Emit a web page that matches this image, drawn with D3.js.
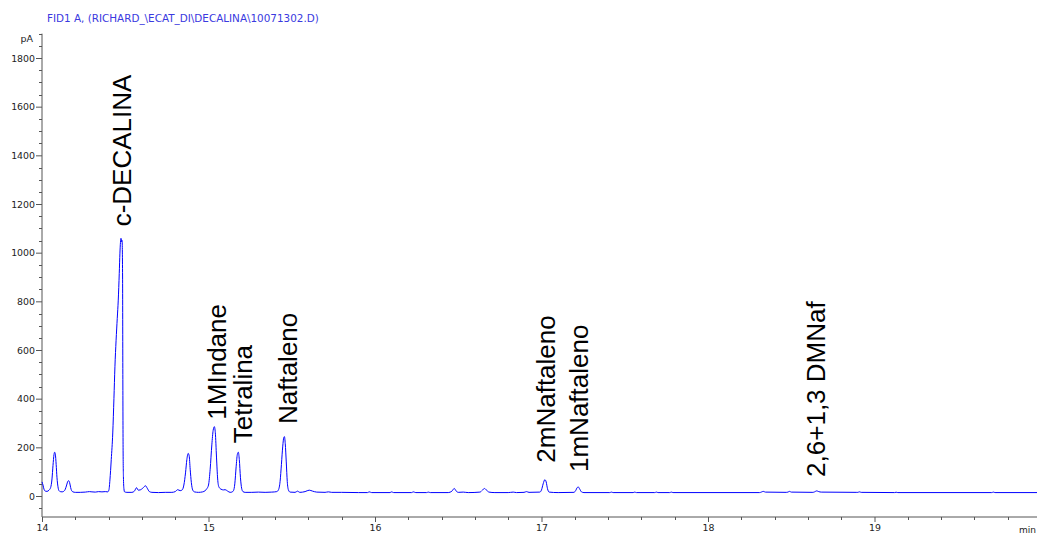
<!DOCTYPE html>
<html>
<head>
<meta charset="utf-8">
<script src="https://cdn.jsdelivr.net/npm/d3@7"></script>
<style>
  html, body { margin: 0; padding: 0; background: #ffffff; }
  svg { display: block; }
</style>
</head>
<body>
<svg id="chart" width="1037" height="534"></svg>
<script>
// ---- FID signal trace: retention time (min) and detector response (pA) ----
const timeMin = [
  14.000, 14.006, 14.012, 14.020, 14.030, 14.042, 14.052, 14.060, 14.066, 14.072,
  14.076, 14.080, 14.085, 14.090, 14.096, 14.102, 14.110, 14.120, 14.130, 14.140,
  14.148, 14.155, 14.160, 14.166, 14.172, 14.178, 14.186, 14.200, 14.230, 14.260,
  14.285, 14.300, 14.320, 14.340, 14.360, 14.380, 14.395, 14.402, 14.408, 14.416,
  14.425, 14.432, 14.438, 14.445, 14.452, 14.458, 14.464, 14.468, 14.4745, 14.478,
  14.481, 14.484, 14.4855, 14.487, 14.489, 14.492, 14.496, 14.510, 14.540, 14.555,
  14.568, 14.578, 14.590, 14.605, 14.622, 14.632, 14.645, 14.660, 14.700, 14.740,
  14.780, 14.800, 14.815, 14.830, 14.842, 14.852, 14.862, 14.870, 14.878, 14.884,
  14.890, 14.897, 14.905, 14.915, 14.940, 14.965, 14.980, 14.990, 15.000, 15.010,
  15.020, 15.028, 15.035, 15.041, 15.048, 15.055, 15.062, 15.075, 15.090, 15.100,
  15.115, 15.130, 15.140, 15.150, 15.158, 15.166, 15.173, 15.179, 15.185, 15.192,
  15.199, 15.207, 15.220, 15.260, 15.300, 15.340, 15.380, 15.410, 15.420, 15.430,
  15.438, 15.446, 15.452, 15.456, 15.461, 15.467, 15.473, 15.480, 15.490, 15.520,
  15.535, 15.548, 15.580, 15.605, 15.625, 15.650, 15.700, 15.720, 15.740, 15.800,
  15.900, 15.955, 15.965, 15.980, 16.090, 16.100, 16.112, 16.220, 16.230, 16.245,
  16.310, 16.320, 16.332, 16.440, 16.462, 16.476, 16.488, 16.500, 16.530, 16.560,
  16.630, 16.645, 16.657, 16.670, 16.685, 16.720, 16.800, 16.830, 16.850, 16.895,
  16.910, 16.925, 16.990, 17.000, 17.010, 17.020, 17.028, 17.036, 17.046, 17.100,
  17.195, 17.205, 17.215, 17.221, 17.230, 17.240, 17.255, 17.410, 17.420, 17.430,
  17.550, 17.560, 17.570, 17.680, 17.690, 17.700, 17.770, 17.780, 17.790, 18.310,
  18.320, 18.332, 18.345, 18.470, 18.480, 18.490, 18.500, 18.630, 18.640, 18.653,
  18.665, 18.680, 18.890, 18.900, 18.909, 18.920, 19.120, 19.130, 19.140, 19.704,
  19.714, 19.724, 20.000
];
const signalPA = [
  58, 45, 28, 20, 19, 24, 35, 70, 125, 170,
  180, 172, 130, 75, 38, 22, 18, 17, 19, 28,
  45, 60, 63, 55, 35, 22, 17, 15, 15, 16,
  18, 17, 16, 18, 17, 18, 17, 25, 66, 150,
  259, 400, 531, 640, 730, 805, 915, 998, 1059, 1045,
  1050, 900, 500, 200, 80, 30, 17, 15, 15, 20,
  34, 24, 25, 32, 42, 32, 18, 15, 14, 15,
  15, 18, 26, 22, 25, 45, 95, 150, 175, 165,
  110, 55, 25, 17, 15, 17, 22, 30, 45, 110,
  210, 270, 285, 260, 160, 70, 38, 28, 25, 26,
  20, 15, 16, 22, 50, 120, 170, 180, 150, 75,
  32, 18, 15, 15, 16, 15, 16, 18, 25, 60,
  130, 205, 240, 244, 215, 140, 60, 25, 16, 15,
  20, 15, 18, 24, 20, 16, 15, 17, 15, 15,
  14, 14, 17, 14, 14, 17, 14, 14, 17, 14,
  14, 16, 14, 14, 20, 31, 20, 15, 16, 14,
  16, 24, 31, 24, 16, 14, 14, 16, 14, 15,
  18, 15, 16, 25, 50, 67, 58, 30, 16, 14,
  15, 22, 35, 37, 28, 17, 14, 14, 16, 14,
  14, 16, 14, 14, 16, 14, 14, 16, 14, 14,
  16, 19, 16, 15, 16, 19, 16, 15, 17, 21,
  18, 16, 15, 15, 17, 15, 14, 15.5, 14, 14,
  16, 14, 14
];

// ---- identified compounds ----
const peakNames   = ["c-DECALINA", "1MIndane", "Tetralina", "Naftaleno", "2mNaftaleno", "1mNaftaleno", "2,6+1,3 DMNaf"];
const peakTimes   = [14.4745, 15.035, 15.179, 15.456, 17.020, 17.221, 18.653];
const peakHeights = [1059, 285, 180, 244, 67, 37, 21];

// ---- axis ticks ----
const yMajorTicks = [0, 200, 400, 600, 800, 1000, 1200, 1400, 1600, 1800];
const xMajorTicks = [14, 15, 16, 17, 18, 19];
const titleText = "FID1 A, (RICHARD_\\ECAT_DI\\DECALINA\\10071302.D)";

// ---- layout ----
const W = 1037, H = 534;
const plotLeft = 42, axisY = 517;
const labelDx  = [10, 12, 13.4, 12.4, 10, 10, 8.3];   // label baseline offset right of apex (px)
const labelGap = [12, 7, 9, 12.6, 17, 15, 14];        // gap between apex and label start (px)

const svg = d3.select("#chart");

const x = d3.scaleLinear().domain([14, 20]).range([plotLeft, plotLeft + 6 * 166.5]);
const y = d3.scaleLinear().domain([0, 1800]).range([496, 58]);

const axisColor = "#555";
const tickFont = "'DejaVu Sans', Verdana, sans-serif";

// title
svg.append("text")
  .attr("x", 47).attr("y", 22)
  .attr("font-family", tickFont)
  .attr("font-size", 10.4)
  .attr("fill", "#3a3ae0")
  .text(titleText);

// y axis
const yAxisG = svg.append("g").attr("transform", `translate(${plotLeft},0)`);
yAxisG.append("line")
  .attr("x1", 0).attr("x2", 0)
  .attr("y1", y(1900)).attr("y2", axisY)
  .attr("stroke", axisColor).attr("stroke-width", 1);
const yMinor = d3.range(-50, 1901, 50).filter(v => v % 200 !== 0);
yAxisG.selectAll("line.minor").data(yMinor).join("line")
  .attr("class", "minor")
  .attr("x1", -3).attr("x2", 0)
  .attr("y1", d => Math.round(y(d)) + 0.5).attr("y2", d => Math.round(y(d)) + 0.5)
  .attr("stroke", axisColor);
yAxisG.append("g")
  .call(d3.axisLeft(y).tickValues(yMajorTicks).tickSize(6).tickPadding(1).tickFormat(d3.format("d")))
  .call(g => g.select(".domain").remove())
  .call(g => g.selectAll(".tick line").attr("stroke", axisColor))
  .call(g => g.selectAll(".tick text")
    .attr("font-family", tickFont).attr("font-size", 9.4).attr("fill", "#222"));
svg.append("text")
  .attr("x", 33).attr("y", 42)
  .attr("text-anchor", "end")
  .attr("font-family", tickFont).attr("font-size", 9.5).attr("fill", "#222")
  .text("pA");

// x axis
const xAxisG = svg.append("g").attr("transform", `translate(0,${axisY})`);
xAxisG.append("line")
  .attr("x1", plotLeft).attr("x2", W)
  .attr("y1", 0).attr("y2", 0)
  .attr("stroke", axisColor);
const xMinor = d3.range(1, 30).map(i => 14 + i * 0.2).filter(v => Math.abs(v - Math.round(v)) > 1e-6);
xAxisG.selectAll("line.minor").data(xMinor).join("line")
  .attr("class", "minor")
  .attr("x1", d => Math.round(x(d)) + 0.5).attr("x2", d => Math.round(x(d)) + 0.5)
  .attr("y1", 0).attr("y2", 3)
  .attr("stroke", axisColor);
xAxisG.append("g")
  .call(d3.axisBottom(x).tickValues(xMajorTicks).tickSize(5).tickPadding(2).tickFormat(d3.format("d")))
  .call(g => g.select(".domain").remove())
  .call(g => g.selectAll(".tick line").attr("stroke", axisColor))
  .call(g => g.selectAll(".tick text")
    .attr("font-family", tickFont).attr("font-size", 9.4).attr("fill", "#222"));
svg.append("text")
  .attr("x", 1036).attr("y", axisY + 16)
  .attr("text-anchor", "end")
  .attr("font-family", tickFont).attr("font-size", 9).attr("fill", "#222")
  .text("min");

// chromatogram trace
const trace = timeMin.map((t, i) => [t, signalPA[i]]);
svg.append("path")
  .datum(trace)
  .attr("fill", "none")
  .attr("stroke", "#0000ff")
  .attr("stroke-width", 1)
  .attr("d", d3.line().x(d => x(d[0])).y(d => y(d[1])).curve(d3.curveMonotoneX));

// compound labels, rotated above each apex
svg.selectAll("text.peak").data(peakNames).join("text")
  .attr("class", "peak")
  .attr("transform", (d, i) =>
    `translate(${x(peakTimes[i]) + labelDx[i]},${y(peakHeights[i]) - labelGap[i]}) rotate(-90)`)
  .attr("font-family", "Arial, 'Liberation Sans', sans-serif")
  .attr("font-size", 26)
  .attr("fill", "#000")
  .text(d => d);
</script>
</body>
</html>
